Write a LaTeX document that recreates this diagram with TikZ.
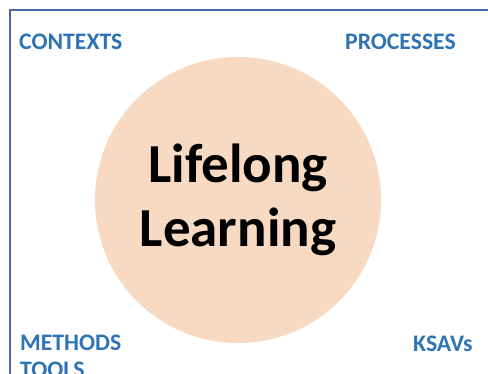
\documentclass[tikz,border=0pt]{standalone}
\usepackage{fontspec}
\setmainfont{Carlito}
\definecolor{framec}{HTML}{4A68A2}
\definecolor{labelc}{HTML}{2E74B5}
\definecolor{circc}{HTML}{F8D9C2}
\begin{document}
\begin{tikzpicture}[x=1pt,y=-1pt,
  corner/.style={inner sep=0pt,anchor=base west,text=labelc,font=\fontsize{23.7}{27}\selectfont\bfseries,align=left},
  title/.style={inner sep=0pt,anchor=base,text=black,font=\fontsize{55}{64}\selectfont\bfseries}]
\useasboundingbox (0,0) rectangle (488,374);
\clip (0,0) rectangle (488,374);
\draw[framec,line width=1.4pt] (10,400) -- (10,10) -- (500,10);
\node[circle,fill=circc,minimum size=286pt,inner sep=0pt] (c) at (238,200) {};
\node[title] (l1) at (238,183) {Lifelong};
\node[title] (l2) at (238,247) {Learning};
\node[corner] (ctx) at (19,50) {CONTEXTS};
\node[corner] (proc) at (345,50) {PROCESSES};
\node[corner] (meth) at (20,351) {METHODS};
\node[corner] (tools) at (20,378) {TOOLS};
\node[corner] (ksav) at (413,352) {KSAVs};
\end{tikzpicture}
\end{document}
